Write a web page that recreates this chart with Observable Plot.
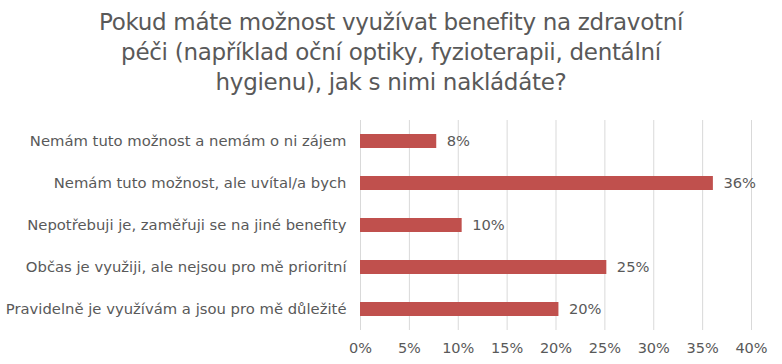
<!DOCTYPE html>
<html>
<head>
<meta charset="utf-8">
<script src="https://cdn.jsdelivr.net/npm/d3@7"></script>
<script src="https://cdn.jsdelivr.net/npm/@observablehq/plot@0.6"></script>
<style>
  html, body { margin: 0; padding: 0; background: #fff; }
  #wrap { width: 782px; height: 364px; overflow: hidden; font-family: "DejaVu Sans", sans-serif; }
  #title { height: 110px; box-sizing: border-box; padding-top: 7px; text-align: center; color: #595959;
           font-size: 23px; line-height: 30px; letter-spacing: -0.3px; }
</style>
</head>
<body>
<div id="wrap">
  <div id="title">Pokud máte možnost využívat benefity na zdravotní<br>péči (například oční optiky, fyzioterapii, dentální<br>hygienu), jak s nimi nakládáte?</div>
  <div id="chart"></div>
</div>
<script>
const categories = [
  "Nemám tuto možnost a nemám o ni zájem",
  "Nemám tuto možnost, ale uvítal/a bych",
  "Nepotřebuji je, zaměřuji se na jiné benefity",
  "Občas je využiji, ale nejsou pro mě prioritní",
  "Pravidelně je využívám a jsou pro mě důležité"
];
const values = [7.8, 36.1, 10.4, 25.2, 20.3];
const valueLabels = ["8%", "36%", "10%", "25%", "20%"];
const xTicks = [0, 5, 10, 15, 20, 25, 30, 35, 40];

const data = categories.map((c, i) => ({category: c, value: values[i], label: valueLabels[i]}));
const textColor = "#595959";

const chart = Plot.plot({
  width: 782,
  height: 254,
  marginTop: 10,
  marginBottom: 34,
  marginLeft: 360,
  marginRight: 31,
  style: {fontFamily: "DejaVu Sans, sans-serif", fontSize: "14px", color: textColor, background: "#fff"},
  x: {domain: [0, 40], ticks: xTicks, label: null},
  y: {domain: categories, paddingInner: 0.655, paddingOuter: 0.3275, label: null},
  marks: [
    Plot.gridX(xTicks, {stroke: "#d9d9d9", strokeOpacity: 1, strokeWidth: 1}),
    Plot.barX(data, {x: "value", y: "category", fill: "#C0504D"}),
    Plot.text(data, {x: "value", y: "category", text: "label", textAnchor: "start", dx: 10, fill: textColor, fontSize: 14.7}),
    Plot.axisX({ticks: xTicks, tickFormat: d => d + "%", tickSize: 0, tickPadding: 12, fontSize: 14.5, fill: textColor, label: null}),
    Plot.axisY({tickSize: 0, tickPadding: 14, fontSize: 14.8, fill: textColor, label: null})
  ]
});
document.getElementById("chart").appendChild(chart);
</script>
</body>
</html>
